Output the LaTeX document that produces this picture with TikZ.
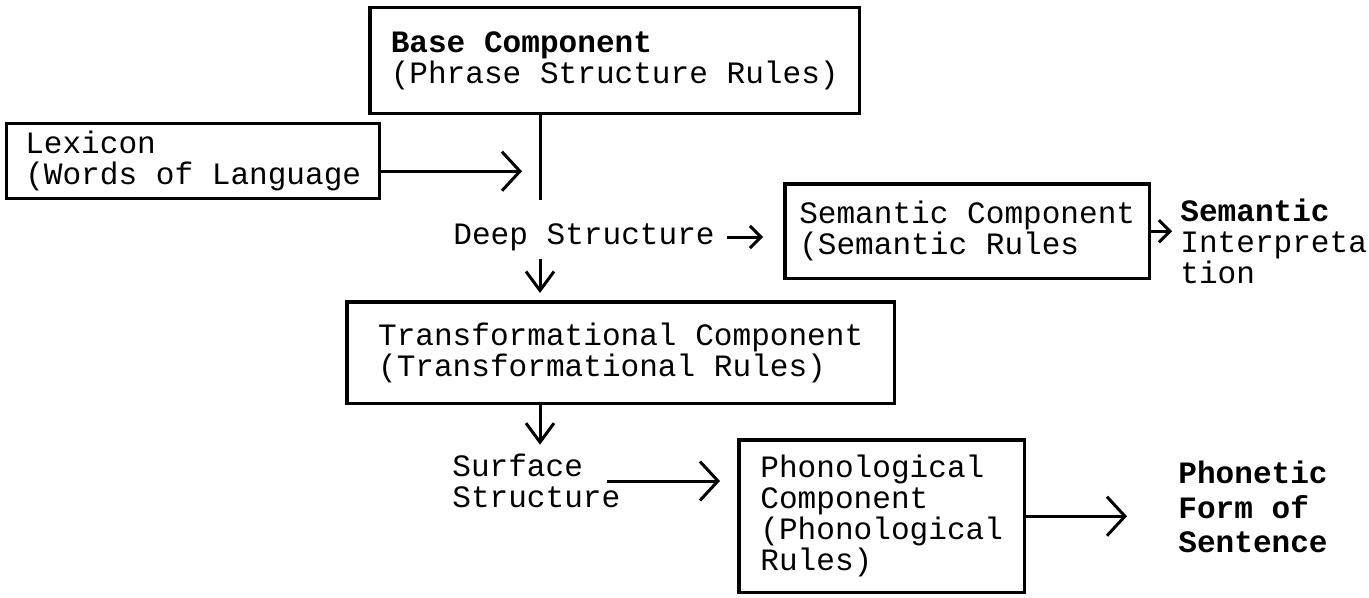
\documentclass[tikz,border=0pt]{standalone}
\usepackage{fontspec}
\setmainfont{Liberation Mono}
\usepackage{tikz}
\usetikzlibrary{arrows.meta,positioning,calc}

\begin{document}
\begin{tikzpicture}[
  x=0.02cm, y=-0.02cm,
  font=\fontsize{17.7}{17.7}\selectfont,
  box/.style={draw, line width=0.07cm, align=left, anchor=north west, inner sep=0pt},
  lbl/.style={align=left, anchor=west, inner sep=0pt},
  conn/.style={line width=0.06cm},
  bigarr/.style={conn, -{Straight Barb[length=0.36cm, width=0.78cm]}},
  midarr/.style={conn, -{Straight Barb[length=0.38cm, width=0.56cm]}},
  smallarr/.style={conn, -{Straight Barb[length=0.22cm, width=0.44cm]}}
]
\useasboundingbox (0,0) rectangle (1369,598);

\node[box, minimum width=9.8cm, minimum height=2.12cm] (base) at (368,6)
  {\textbf{Base Component}\\(Phrase Structure Rules)};
\node[box, minimum width=7.46cm, minimum height=1.5cm] (lex) at (5,122)
  {Lexicon\\(Words of Language};
\node[box, minimum width=7.3cm, minimum height=1.9cm] (sem) at (783,182)
  {Semantic Component\\(Semantic Rules};
\node[box, minimum width=10.96cm, minimum height=2.04cm] (trans) at (345,300)
  {Transformational Component\\(Transformational Rules)};
\node[box, minimum width=5.72cm, minimum height=3.06cm] (phon) at (737,438)
  {Phonological\\Component\\(Phonological\\Rules)};

\node[lbl] (deep) at (453,237) {Deep Structure};
\node[lbl] (interp) at (1180,241) {\textbf{Semantic}\\Interpreta\\tion};
\node[lbl] (surf) at (452,481) {Surface\\Structure};
\node[lbl, font=\fontsize{17.7}{19.5}\selectfont\bfseries] (phonetic) at (1178,507)
  {Phonetic\\Form of\\Sentence};

\coordinate (join) at (540,200);
\draw[conn] (base.south -| join) -- (join);
\draw[bigarr, shorten >=0.36cm] ([yshift=-0.2cm]lex.east) -- ([yshift=-0.2cm]lex.east -| join);
\draw[smallarr, shorten <=0.24cm, shorten >=0.4cm] (deep.east) -- (deep.east -| sem.west);
\draw[midarr, shorten <=0.16cm, shorten >=0.14cm] (deep.south -| join) -- (trans.north -| join);
\draw[smallarr, shorten >=0.16cm] (sem.east) -- (sem.east -| interp.west);
\draw[midarr, shorten >=0.18cm] (trans.south -| join) -- (surf.north -| join);
\draw[bigarr, shorten <=-0.28cm, shorten >=0.34cm] (surf.east) -- (surf.east -| phon.west);
\draw[bigarr, shorten >=1.02cm] (phon.east) -- (phon.east -| phonetic.west);
\end{tikzpicture}
\end{document}
